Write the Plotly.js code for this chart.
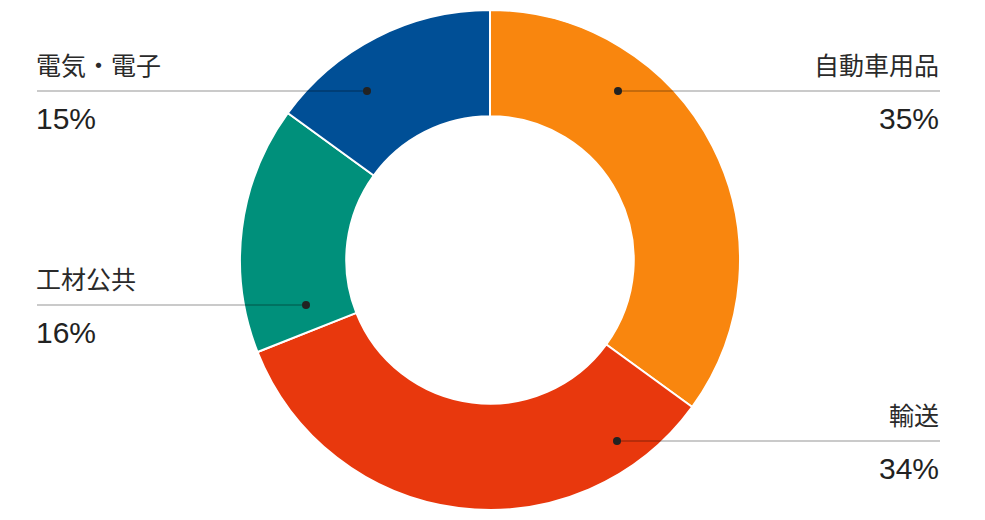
<!DOCTYPE html>
<html>
<head>
<meta charset="utf-8">
<script src="https://cdn.plot.ly/plotly-3.0.1.min.js"></script>
<style>html,body{margin:0;padding:0;background:#fff;}#chart{width:985px;height:520px;}</style>
</head>
<body>
<div id="chart"></div>
<script>
const categories = ["自動車用品", "輸送", "工材公共", "電気・電子"];
const values = [35, 34, 16, 15];
const colors = ["#F9860E", "#E8380D", "#00907B", "#004F96"];

const W = 985, H = 520;
const px = x => x / W;
const py = y => 1 - y / H;

// label layout: [dotX, dotY, lineEndX, side]
const labelPos = [
  [618, 91, 940, "right"],
  [617, 441, 940, "right"],
  [306, 305, 37, "left"],
  [367, 91, 37, "left"]
];

const shapes = [];
const annotations = [];
const font = "Liberation Sans, Noto Sans CJK JP, sans-serif";
categories.forEach((c, i) => {
  const [dx, dy, ex, side] = labelPos[i];
  shapes.push({type: "line", xref: "paper", yref: "paper",
    x0: px(dx), y0: py(dy), x1: px(ex), y1: py(dy),
    line: {color: "rgba(0,0,0,0.42)", width: 1}});
  shapes.push({type: "circle", xref: "paper", yref: "paper",
    x0: px(dx - 4), x1: px(dx + 4), y0: py(dy - 4), y1: py(dy + 4),
    fillcolor: "#222", line: {width: 0}});
  const tx = side === "right" ? ex + 1 : ex - 3;
  annotations.push({xref: "paper", yref: "paper", x: px(tx), y: py(dy - 9),
    xanchor: side, yanchor: "bottom", showarrow: false, text: c,
    font: {family: font, size: 25, color: "#2a2a2a"}});
  annotations.push({xref: "paper", yref: "paper", x: px(tx), y: py(dy + 9),
    xanchor: side, yanchor: "top", showarrow: false, text: values[i] + "%",
    font: {family: font, size: 30, color: "#222"}});
});

Plotly.newPlot("chart", [{
  type: "pie",
  labels: categories,
  values: values,
  sort: false,
  direction: "clockwise",
  rotation: 0,
  hole: 0.575,
  textinfo: "none",
  hoverinfo: "label+percent",
  marker: {colors: colors, line: {color: "#fff", width: 2}},
  domain: {x: [240 / W, 740 / W], y: [10 / H, 510 / H]}
}], {
  width: W, height: H,
  margin: {l: 0, r: 0, t: 0, b: 0},
  paper_bgcolor: "#fff",
  showlegend: false,
  shapes: shapes,
  annotations: annotations
}, {displayModeBar: false, staticPlot: true});
</script>
</body>
</html>
